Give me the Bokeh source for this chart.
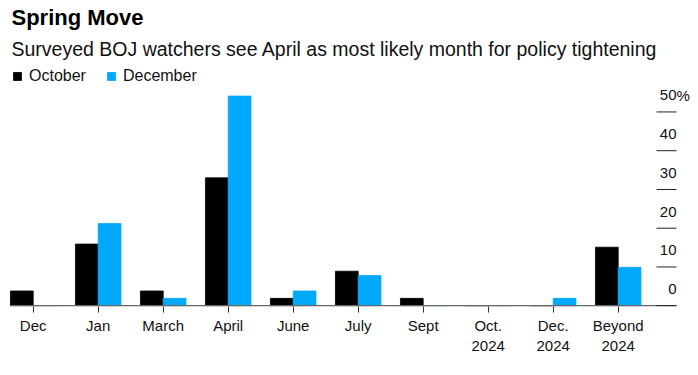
from bokeh.plotting import figure
from bokeh.models import Range1d, FixedTicker, Legend, LegendItem, Title, ColumnDataSource
from bokeh.transform import dodge
from bokeh.core.properties import value
from bokeh.embed import file_html
from bokeh.resources import INLINE

# ---- data ----
categories = ["Dec", "Jan", "March", "April", "June", "July", "Sept",
              "Oct.\n2024", "Dec.\n2024", "Beyond\n2024"]
october = [3.8, 15.9, 3.8, 33.0, 1.9, 8.9, 1.9, 0.0, 0.0, 15.1]
december = [0.0, 21.2, 1.9, 54.1, 3.8, 7.8, 0.0, 0.0, 1.9, 9.9]
y_ticks = [0, 10, 20, 30, 40, 50]
y_tick_labels = ["0", "10", "20", "30", "40", "50"]

FONT = "Liberation Sans"
BLACK = "#000000"
BLUE = "#00A9F9"
TEXT = "#111111"

FRAME_W = 686
LEFT_BORDER = 8
W, H = FRAME_W + LEFT_BORDER, 356
CAT_PX = 65.0          # pixels per category
LEFT_PAD = 24.7 / CAT_PX
n = len(categories)
xs = list(range(n))

p = figure(width=W, height=H, output_backend="svg", toolbar_location=None, title=None,
           x_range=Range1d(-LEFT_PAD, -LEFT_PAD + FRAME_W / CAT_PX),
           y_range=Range1d(-0.2, 62.5),
           y_axis_location=None,
           min_border_left=LEFT_BORDER, min_border_right=0, min_border_top=0, min_border_bottom=0)
p.outline_line_color = None
p.xgrid.visible = False
p.ygrid.visible = False
p.background_fill_color = "white"
p.border_fill_color = "white"

src = ColumnDataSource(dict(x=xs, october=october, december=december))
bw = 0.35
r1 = p.vbar(x=dodge("x", -bw / 2), top="october", width=bw, source=src,
            fill_color=BLACK, line_color=BLACK, line_width=0.8)
r2 = p.vbar(x=dodge("x", bw / 2), top="december", width=bw, source=src,
            fill_color=BLUE, line_color=BLUE, line_width=0.8)

# baseline
tick_x0 = (n - 1) + 38.3 / CAT_PX
tick_x1 = (n - 1) + 58.3 / CAT_PX
p.segment(x0=[-bw], x1=[tick_x1], y0=[0], y1=[0], line_color="#666666", line_width=1.5)

# right-side value scale: short rules with labels above them
p.segment(x0=[tick_x0] * len(y_ticks), x1=[tick_x1] * len(y_ticks),
          y0=y_ticks, y1=y_ticks, line_color="#222222", line_width=1)
p.text(x=[tick_x1] * len(y_ticks), y=y_ticks, text=y_tick_labels,
       text_align="right", text_baseline="alphabetic", y_offset=-16.5,
       text_font=value(FONT), text_font_size="15px", text_color=TEXT)
p.text(x=[tick_x1], y=[y_ticks[-1]], text=["%"],
       text_align="left", text_baseline="alphabetic", y_offset=-16.5,
       text_font=value(FONT), text_font_size="15px", text_color=TEXT)

# x axis
ax = p.xaxis[0]
ax.ticker = FixedTicker(ticks=xs)
ax.major_label_overrides = {i: c for i, c in enumerate(categories)}
ax.axis_line_color = None
ax.major_tick_out = 6
ax.major_tick_in = 0
ax.major_tick_line_color = "#333333"
ax.minor_tick_line_color = None
ax.major_label_text_font = FONT
ax.major_label_text_font_size = "15px"
ax.major_label_text_color = TEXT
ax.major_label_standoff = 4

legend = Legend(items=[LegendItem(label="October", renderers=[r1]),
                       LegendItem(label="December", renderers=[r2])],
                orientation="horizontal", location="top_left",
                glyph_width=10, glyph_height=10, label_height=12,
                label_text_font=FONT, label_text_font_size="16px", label_text_color=TEXT,
                label_standoff=7, spacing=20, padding=0, margin=4,
                border_line_color=None, background_fill_alpha=0)
p.add_layout(legend)

sub = Title(text="Surveyed BOJ watchers see April as most likely month for policy tightening",
            text_font=FONT, text_font_size="19.5px", text_font_style="normal",
            text_color=TEXT, offset=3, standoff=8)
p.add_layout(sub, "above")
main = Title(text="Spring Move", text_font=FONT, text_font_size="22px",
             text_font_style="bold", text_color=BLACK, offset=3, standoff=4)
p.add_layout(main, "above")

open("out.html", "w").write(file_html(p, INLINE))
